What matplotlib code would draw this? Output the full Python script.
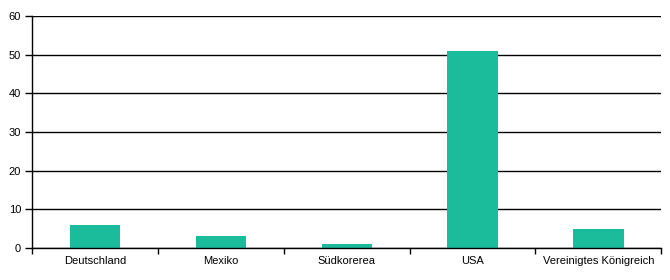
import matplotlib
matplotlib.use('Agg')
import matplotlib.pyplot as plt
import numpy as np

categories = ['Deutschland', 'Mexiko', 'Südkorerea', 'USA', 'Vereinigtes Königreich']
values = [6, 3, 1, 51, 5]

plt.rcParams['font.family'] = ['Liberation Sans', 'DejaVu Sans']
plt.rcParams['font.size'] = 8

fig, ax = plt.subplots(figsize=(6.7, 2.8), dpi=100)
fig.subplots_adjust(left=0.048, right=0.987, top=0.943, bottom=0.114)

x = np.arange(len(categories))
ax.bar(x, values, width=0.4, color='#1ABC9C', zorder=3)

ax.set_xlim(-0.5, len(categories) - 0.5)
ax.set_ylim(0, 60)
ax.set_yticks(range(0, 61, 10))
ax.set_xticks(x)
ax.set_xticklabels(categories)
ax.set_xticks(np.arange(-0.5, len(categories), 1), minor=True)
ax.tick_params(axis='x', which='major', length=0, pad=6)
ax.tick_params(axis='x', which='minor', length=4, width=1, direction='out')
ax.tick_params(axis='y', length=5, width=1, direction='out', pad=3)

ax.grid(axis='y', color='black', linewidth=1, zorder=0)
for s in ['top', 'right']:
    ax.spines[s].set_visible(False)
for s in ['left', 'bottom']:
    ax.spines[s].set_linewidth(1)
    ax.spines[s].set_zorder(4)

plt.savefig('out.png')
